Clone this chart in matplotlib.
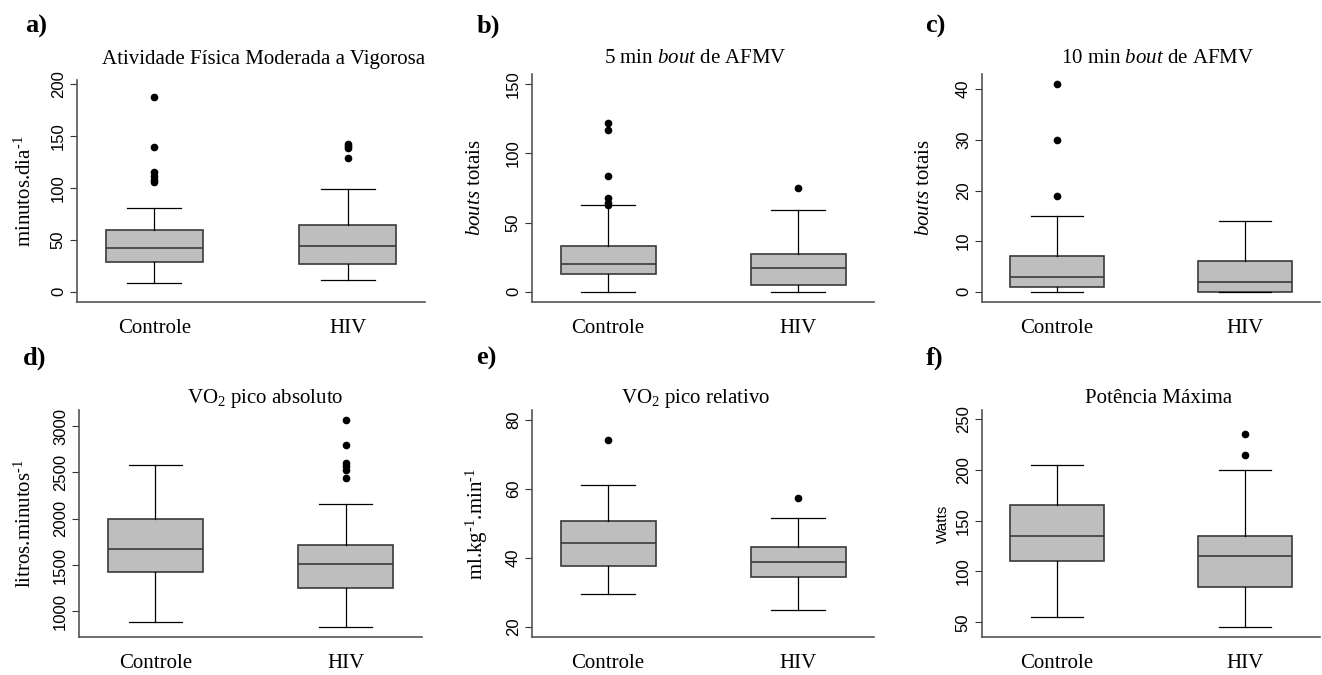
import matplotlib
matplotlib.use("Agg")
import matplotlib.pyplot as plt

plt.rcParams["font.family"] = "Liberation Serif"
plt.rcParams["mathtext.fontset"] = "custom"
plt.rcParams["mathtext.rm"] = "Liberation Serif"
plt.rcParams["mathtext.it"] = "Liberation Serif:italic"

W, H = 1322, 675
groups = ["Controle", "HIV"]

# whisker low, Q1, median, Q3, whisker high  (Controle, HIV)
afmv = [[8, 29, 42, 59, 81], [11, 27, 44, 64, 99]]
afmv_out = [[106, 108, 111, 115, 139, 188], [129, 138, 140, 142]]

bout5 = [[0, 13, 20, 33, 63], [0, 5, 17, 27, 59]]
bout5_out = [[63, 64, 68, 84, 117, 122], [75]]

bout10 = [[0, 1, 3, 7, 15], [0, 0, 2, 6, 14]]
bout10_out = [[19, 30, 41], []]

vo2_abs = [[880, 1425, 1675, 2000, 2575], [830, 1250, 1510, 1715, 2160]]
vo2_abs_out = [[], [2440, 2530, 2570, 2600, 2800, 3070]]

vo2_rel = [[29.5, 37.8, 44.4, 50.6, 61.1], [24.8, 34.6, 38.9, 43.3, 51.7]]
vo2_rel_out = [[74.1], [57.4]]

watts = [[55, 110, 135, 165, 205], [45, 85, 115, 135, 200]]
watts_out = [[], [215, 235]]


def make_stats(five, out):
    res = []
    for g, f, o in zip(groups, five, out):
        res.append(dict(label=g, whislo=f[0], q1=f[1], med=f[2], q3=f[3],
                        whishi=f[4], fliers=o))
    return res


SUP = "$^{\\text{-1}}$"

# label, title, ylabel, data, outliers, ylim, yticks, (left, top, right, bottom) px,
# title x, title baseline y, label x, label y, ylabel x, sans ylabel?
panels = [
    ("a)", "Atividade Física Moderada a Vigorosa", "minutos.dia" + SUP,
     afmv, afmv_out, (-10, 204), [0, 50, 100, 150, 200], (77, 80, 425, 302), 264, 64, 25, 33, 25, False),
    ("b)", "5 min $\\mathit{bout}$ de AFMV", "$\\mathit{bouts}$ totais",
     bout5, bout5_out, (-7.5, 157.5), [0, 50, 100, 150], (532, 74, 874, 302), 695, 63, 477, 33, 475, False),
    ("c)", "10 min $\\mathit{bout}$ de AFMV", "$\\mathit{bouts}$ totais",
     bout10, bout10_out, (-2, 43), [0, 10, 20, 30, 40], (982, 74, 1320, 302), 1158, 63, 925, 33, 925, False),
    ("d)", "VO$_{\\mathregular{2}}$ pico absoluto", "litros.minutos" + SUP,
     vo2_abs, vo2_abs_out, (723, 3173), [1000, 1500, 2000, 2500, 3000], (79, 410, 422, 637), 265, 403, 23, 365, 25, False),
    ("e)", "VO$_{\\mathregular{2}}$ pico relativo", "ml.kg" + SUP + ".min" + SUP,
     vo2_rel, vo2_rel_out, (17.1, 82.9), [20, 40, 60, 80], (532, 410, 874, 637), 696, 403, 476, 365, 477, False),
    ("f)", "Potência Máxima", "Watts",
     watts, watts_out, (35.5, 259), [50, 100, 150, 200, 250], (982, 410, 1320, 637), 1159, 403, 926, 365, 943, True),
]

fig = plt.figure(figsize=(W / 100, H / 100), dpi=100)

for lab, title, ylab, five, out, ylim, yticks, box, tx, ty, lx, ly, ylx, sans in panels:
    l, t, r, b = box
    ax = fig.add_axes([l / W, 1 - b / H, (r - l) / W, (b - t) / H])
    ax.bxp(make_stats(five, out), positions=[1, 2], widths=0.5, patch_artist=True,
           boxprops=dict(facecolor="#bebebe", edgecolor="#3a3a3a", linewidth=1.2),
           medianprops=dict(color="#3a3a3a", linewidth=1.2),
           whiskerprops=dict(color="black", linewidth=0.9),
           capprops=dict(color="black", linewidth=0.9),
           capwidths=0.28,
           flierprops=dict(marker="o", markerfacecolor="black", markeredgecolor="black",
                           markersize=4.5))
    ax.set_xlim(0.6, 2.4)
    ax.set_ylim(*ylim)
    ax.set_yticks(yticks)
    ax.set_xticks([1, 2])
    ax.set_xticklabels(groups, fontsize=15)
    ax.tick_params(axis="x", length=0, pad=12)
    ax.tick_params(axis="y", length=5, width=0.8, color="#333333", pad=3)
    for tl in ax.get_yticklabels():
        tl.set_rotation(90)
        tl.set_va("center")
        tl.set_family("Liberation Sans")
        tl.set_fontsize(12)
    for s in ["top", "right"]:
        ax.spines[s].set_visible(False)
    for s in ["left", "bottom"]:
        ax.spines[s].set_color("#555555")
        ax.spines[s].set_linewidth(1.2)
    fig.text(tx / W, 1 - ty / H, title, ha="center", va="baseline", fontsize=15)
    fig.text(lx / W, 1 - ly / H, lab, ha="left", va="baseline", fontsize=19, fontweight="bold")
    if sans:
        fig.text(ylx / W, 1 - (t + b) / 2 / H, ylab, rotation=90, ha="center", va="center",
                 fontsize=11, family="Liberation Sans")
    else:
        fig.text(ylx / W, 1 - (t + b) / 2 / H, ylab, rotation=90, ha="center", va="center",
                 fontsize=15)

fig.savefig("out.png", dpi=100, facecolor="white")
